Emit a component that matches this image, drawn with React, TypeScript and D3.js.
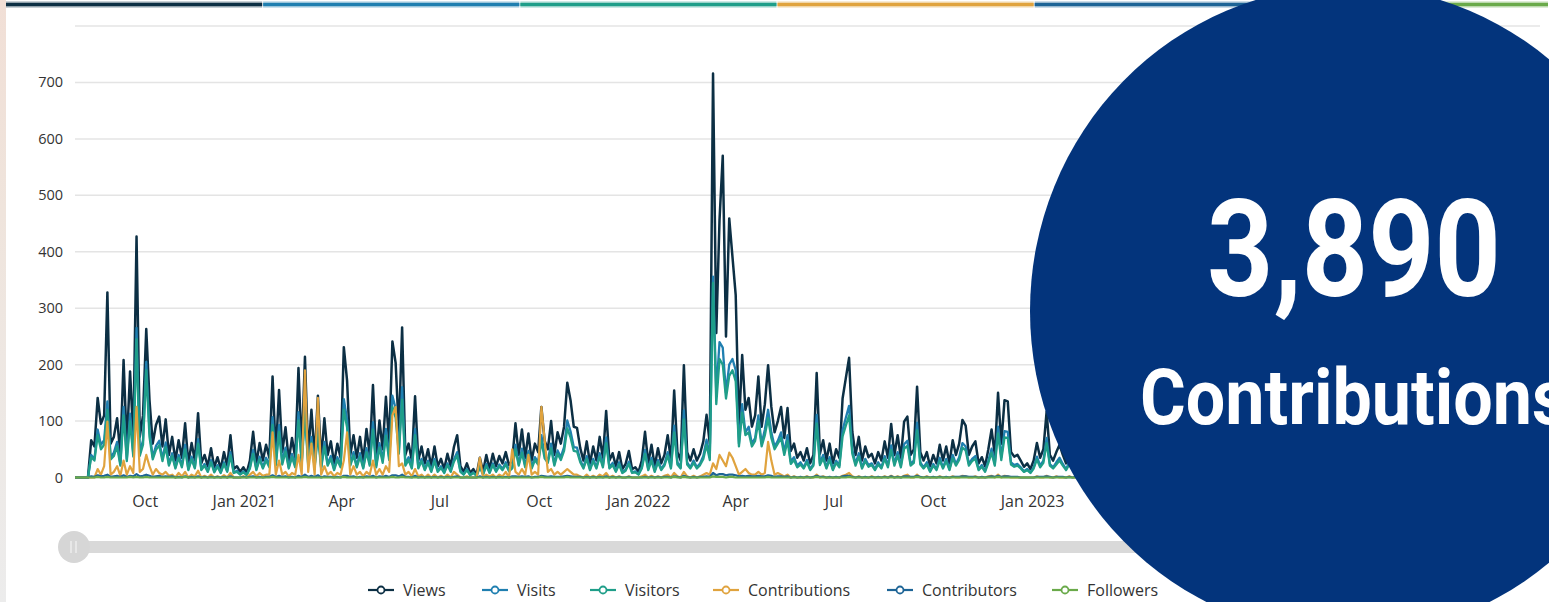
import React from 'react';
import * as d3 from 'd3';

// ---------- DATA ----------
const START_DATE = new Date(2020, 6, 28);
const END_DATE = new Date(2024, 3, 15);
const STEP_DAYS = 3;

const yTickValues = [0, 100, 200, 300, 400, 500, 600, 700];
const xTickDates = [
  new Date(2020, 9, 1), new Date(2021, 0, 1), new Date(2021, 3, 1), new Date(2021, 6, 1),
  new Date(2021, 9, 1), new Date(2022, 0, 1), new Date(2022, 3, 1), new Date(2022, 6, 1),
  new Date(2022, 9, 1), new Date(2023, 0, 1), new Date(2023, 3, 1),
];
const xTickLabels = ['Oct', 'Jan 2021', 'Apr', 'Jul', 'Oct', 'Jan 2022', 'Apr', 'Jul', 'Oct', 'Jan 2023', 'Apr'];

const seriesNames = ['Views', 'Visits', 'Visitors', 'Contributions', 'Contributors', 'Followers'];
const seriesColors = ['#0c2f44', '#1f7fb0', '#1f9e89', '#e0a33e', '#1d6496', '#6aaa4a'];

const views = [
  0, 0, 0, 0, 0, 66, 55, 141, 95, 110, 328, 60, 72, 105, 40, 208, 55, 188, 70, 427,
  72, 110, 263, 137, 60, 93, 108, 55, 103, 40, 72, 30, 66, 35, 96, 25, 61, 30, 114, 25,
  40, 20, 52, 18, 36, 15, 45, 20, 75, 15, 20, 10, 18, 8, 30, 81, 25, 61, 30, 58,
  35, 179, 40, 155, 45, 89, 30, 70, 35, 194, 45, 214, 40, 120, 35, 145, 30, 105, 40, 64,
  25, 60, 35, 231, 172, 40, 75, 35, 72, 30, 86, 40, 164, 35, 101, 50, 143, 60, 241, 203,
  80, 266, 40, 60, 30, 144, 30, 55, 25, 50, 20, 55, 20, 33, 15, 42, 20, 54, 75, 20,
  10, 25, 8, 15, 5, 35, 10, 40, 15, 42, 20, 38, 25, 45, 22, 30, 96, 40, 85, 35,
  78, 30, 60, 45, 125, 65, 50, 100, 40, 80, 60, 90, 168, 137, 90, 88, 52, 30, 64, 25,
  55, 30, 72, 35, 118, 30, 43, 20, 45, 15, 24, 47, 15, 18, 10, 30, 81, 25, 58, 20,
  52, 25, 40, 75, 30, 154, 45, 30, 199, 45, 30, 50, 30, 42, 64, 111, 60, 716, 256, 456,
  570, 250, 459, 391, 323, 90, 217, 120, 141, 90, 110, 179, 90, 130, 199, 125, 80, 100, 125, 70,
  123, 47, 60, 35, 45, 30, 52, 25, 40, 185, 42, 66, 30, 60, 25, 50, 35, 140, 176, 212,
  81, 40, 72, 30, 55, 36, 42, 25, 45, 30, 64, 35, 95, 40, 75, 35, 99, 108, 40, 50,
  161, 45, 30, 45, 20, 40, 25, 58, 30, 55, 25, 66, 40, 60, 102, 92, 40, 55, 64, 25,
  36, 20, 50, 85, 40, 150, 60, 137, 135, 45, 37, 40, 30, 19, 25, 15, 30, 61, 35, 50,
  117, 40, 30, 45, 58, 40, 25, 45, 30, 55, 35, 50, 30, 60, 40, 45, 30, 55, 35, 40,
  25,
];

const visits = [
  0, 0, 0, 0, 0, 40, 33, 85, 58, 66, 135, 36, 44, 63, 24, 125, 33, 113, 42, 265,
  44, 66, 205, 82, 36, 56, 65, 33, 62, 24, 43, 18, 40, 21, 58, 15, 37, 18, 68, 15,
  24, 12, 31, 11, 22, 9, 27, 12, 45, 9, 12, 6, 11, 5, 18, 49, 15, 37, 18, 35,
  21, 107, 24, 93, 27, 53, 18, 42, 21, 116, 27, 128, 24, 72, 21, 87, 18, 63, 24, 38,
  15, 36, 21, 139, 103, 24, 45, 21, 43, 18, 52, 24, 98, 21, 61, 30, 86, 36, 145, 122,
  48, 160, 24, 36, 18, 86, 18, 33, 15, 30, 12, 33, 12, 20, 9, 25, 12, 32, 45, 12,
  6, 15, 5, 9, 3, 21, 6, 24, 9, 25, 12, 23, 15, 27, 13, 18, 58, 24, 51, 21,
  47, 18, 36, 27, 75, 39, 30, 60, 24, 48, 36, 54, 101, 82, 54, 53, 31, 18, 38, 15,
  33, 18, 43, 21, 71, 18, 26, 12, 27, 9, 14, 28, 9, 11, 6, 18, 49, 15, 35, 12,
  31, 15, 24, 45, 18, 92, 27, 18, 119, 27, 18, 30, 18, 25, 38, 67, 36, 356, 150, 240,
  230, 150, 200, 210, 190, 60, 130, 80, 90, 60, 70, 110, 60, 85, 120, 80, 55, 65, 80, 45,
  75, 28, 36, 21, 27, 18, 31, 15, 24, 111, 25, 40, 18, 36, 15, 30, 21, 84, 106, 127,
  49, 24, 43, 18, 33, 22, 25, 15, 27, 18, 38, 21, 57, 24, 45, 21, 59, 65, 24, 30,
  97, 27, 18, 27, 12, 24, 15, 35, 18, 33, 15, 40, 24, 36, 61, 55, 24, 33, 38, 15,
  22, 12, 30, 51, 24, 90, 36, 82, 81, 27, 22, 24, 18, 11, 15, 9, 18, 37, 21, 30,
  70, 24, 18, 27, 35, 24, 15, 27, 18, 33, 21, 30, 18, 36, 24, 27, 18, 33, 21, 24,
  15,
];

const visitors = [
  0, 0, 0, 0, 0, 36, 30, 75, 50, 58, 120, 32, 38, 55, 21, 110, 29, 100, 37, 245,
  38, 58, 190, 72, 32, 49, 57, 29, 54, 21, 38, 16, 35, 18, 50, 13, 32, 16, 60, 13,
  21, 10, 27, 9, 19, 8, 24, 10, 39, 8, 10, 5, 9, 4, 16, 42, 13, 32, 16, 30,
  18, 93, 21, 81, 23, 46, 16, 36, 18, 101, 23, 111, 21, 62, 18, 75, 16, 55, 21, 33,
  13, 31, 18, 120, 89, 21, 39, 18, 37, 16, 45, 21, 85, 18, 53, 26, 74, 31, 125, 106,
  42, 138, 21, 31, 16, 75, 16, 29, 13, 26, 10, 29, 10, 17, 8, 22, 10, 28, 39, 10,
  5, 13, 4, 8, 3, 18, 5, 21, 8, 22, 10, 20, 13, 23, 11, 16, 50, 21, 44, 18,
  41, 16, 31, 23, 65, 34, 26, 52, 21, 42, 31, 47, 87, 71, 47, 46, 27, 16, 33, 13,
  29, 16, 37, 18, 61, 16, 22, 10, 23, 8, 12, 24, 8, 9, 5, 16, 42, 13, 30, 10,
  27, 13, 21, 39, 16, 80, 23, 16, 103, 23, 16, 26, 16, 22, 33, 58, 31, 345, 130, 210,
  200, 140, 180, 190, 170, 55, 115, 75, 80, 55, 65, 100, 55, 75, 105, 70, 50, 60, 70, 40,
  65, 24, 31, 18, 23, 16, 27, 13, 21, 96, 22, 34, 16, 31, 13, 26, 18, 73, 92, 110,
  42, 21, 37, 16, 29, 19, 22, 13, 23, 16, 33, 18, 49, 21, 39, 18, 51, 56, 21, 26,
  84, 23, 16, 23, 10, 21, 13, 30, 16, 29, 13, 34, 21, 31, 53, 48, 21, 29, 33, 13,
  19, 10, 26, 44, 21, 78, 31, 71, 70, 23, 19, 21, 16, 10, 13, 8, 16, 32, 18, 26,
  61, 21, 16, 23, 30, 21, 13, 23, 16, 29, 18, 26, 16, 31, 21, 23, 16, 29, 18, 21,
  13,
];

const contributions = [
  0, 0, 0, 0, 0, 0, 0, 15, 5, 20, 99, 5, 10, 20, 3, 30, 5, 20, 8, 125,
  10, 15, 40, 20, 5, 15, 8, 5, 10, 3, 5, 0, 8, 2, 10, 0, 5, 2, 12, 0,
  3, 0, 5, 0, 2, 0, 4, 0, 8, 0, 0, 0, 2, 0, 5, 10, 2, 8, 3, 5,
  5, 80, 5, 30, 5, 10, 2, 8, 5, 40, 5, 190, 10, 60, 5, 141, 5, 20, 5, 10,
  2, 8, 5, 30, 80, 5, 20, 5, 10, 2, 10, 5, 30, 5, 15, 5, 20, 10, 110, 125,
  20, 25, 5, 10, 2, 15, 2, 5, 0, 5, 0, 5, 0, 3, 0, 5, 0, 10, 5, 0,
  0, 2, 0, 0, 0, 35, 0, 5, 2, 5, 0, 5, 2, 10, 0, 50, 10, 5, 15, 5,
  40, 5, 10, 5, 125, 67, 10, 15, 5, 10, 5, 10, 15, 10, 5, 5, 2, 0, 5, 0,
  3, 0, 5, 2, 8, 0, 3, 0, 2, 0, 0, 2, 0, 0, 0, 2, 5, 0, 3, 0,
  2, 0, 3, 5, 0, 8, 2, 0, 10, 2, 0, 3, 0, 2, 5, 8, 5, 25, 15, 40,
  30, 20, 44, 35, 20, 5, 10, 15, 8, 5, 5, 10, 5, 8, 63, 30, 5, 8, 5, 2,
  5, 0, 2, 0, 0, 0, 2, 0, 0, 5, 0, 2, 0, 0, 0, 0, 0, 3, 5, 8,
  2, 0, 2, 0, 0, 0, 2, 0, 0, 0, 2, 0, 3, 0, 2, 0, 3, 5, 0, 0,
  5, 0, 0, 2, 0, 0, 0, 2, 0, 0, 0, 2, 0, 0, 3, 2, 0, 0, 2, 0,
  0, 0, 2, 3, 0, 5, 0, 3, 2, 0, 0, 0, 0, 0, 0, 0, 0, 2, 0, 0,
  3, 0, 0, 2, 0, 0, 0, 2, 0, 0, 0, 0, 2, 0, 0, 0, 2, 0, 0, 0,
  0,
];

const contributors = [
  0, 0, 0, 0, 0, 2, 1, 4, 2, 3, 5, 1, 2, 3, 1, 4, 1, 3, 2, 6,
  2, 3, 5, 3, 1, 2, 3, 1, 2, 1, 2, 0, 1, 0, 2, 0, 1, 0, 2, 0,
  1, 0, 1, 0, 1, 0, 1, 0, 2, 0, 0, 0, 1, 0, 1, 2, 0, 1, 0, 1,
  1, 4, 1, 3, 1, 2, 0, 1, 0, 3, 1, 5, 1, 3, 1, 4, 0, 2, 1, 1,
  0, 1, 0, 3, 3, 1, 2, 0, 1, 0, 2, 1, 3, 0, 2, 1, 3, 1, 4, 4,
  2, 5, 1, 1, 0, 3, 0, 1, 0, 1, 0, 1, 0, 1, 0, 1, 0, 1, 2, 0,
  0, 0, 0, 0, 0, 2, 0, 1, 0, 1, 0, 1, 0, 1, 0, 2, 2, 1, 2, 1,
  2, 0, 1, 1, 3, 2, 1, 2, 1, 1, 1, 2, 3, 2, 1, 1, 1, 0, 1, 0,
  1, 0, 1, 0, 2, 0, 1, 0, 1, 0, 0, 1, 0, 0, 0, 0, 1, 0, 1, 0,
  1, 0, 1, 1, 0, 2, 1, 0, 3, 1, 0, 1, 0, 1, 1, 2, 1, 8, 4, 6,
  6, 4, 5, 5, 4, 2, 3, 2, 3, 2, 2, 3, 2, 2, 4, 3, 1, 2, 2, 1,
  2, 0, 1, 0, 1, 0, 1, 0, 1, 3, 1, 1, 0, 1, 0, 1, 0, 2, 3, 3,
  1, 0, 1, 0, 1, 0, 1, 0, 1, 0, 1, 0, 2, 0, 1, 0, 2, 2, 1, 1,
  3, 1, 0, 1, 0, 1, 0, 1, 0, 1, 0, 1, 1, 1, 2, 2, 1, 1, 1, 0,
  1, 0, 1, 2, 1, 3, 1, 2, 2, 1, 1, 1, 0, 0, 0, 0, 0, 1, 1, 1,
  2, 1, 0, 1, 1, 1, 0, 1, 0, 1, 1, 1, 0, 1, 1, 1, 0, 1, 0, 1,
  0,
];

const followers = [
  0, 0, 0, 0, 0, 0, 0, 1, 0, 0, 1, 0, 0, 0, 0, 0, 0, 1, 0, 1,
  0, 0, 1, 0, 0, 0, 0, 0, 0, 0, 0, 0, 0, 0, 1, 0, 0, 0, 0, 0,
  0, 0, 0, 0, 0, 0, 0, 0, 0, 0, 0, 0, 0, 0, 0, 0, 0, 0, 0, 0,
  0, 1, 0, 0, 0, 0, 0, 0, 0, 0, 0, 1, 0, 0, 0, 0, 0, 0, 0, 0,
  0, 0, 0, 1, 0, 0, 0, 0, 0, 0, 0, 0, 0, 0, 0, 0, 0, 0, 1, 0,
  0, 1, 0, 0, 0, 0, 0, 0, 0, 0, 0, 0, 0, 0, 0, 0, 0, 0, 0, 0,
  0, 0, 0, 0, 0, 0, 0, 0, 0, 0, 0, 0, 0, 0, 0, 0, 0, 0, 0, 0,
  0, 0, 0, 0, 1, 0, 0, 0, 0, 0, 0, 0, 1, 0, 0, 0, 0, 0, 0, 0,
  0, 0, 0, 0, 0, 0, 0, 0, 0, 0, 0, 0, 0, 0, 0, 0, 0, 0, 0, 0,
  0, 0, 0, 0, 0, 1, 0, 0, 1, 0, 0, 0, 0, 0, 0, 0, 0, 2, 1, 1,
  1, 0, 1, 1, 0, 0, 0, 0, 0, 0, 0, 0, 0, 0, 1, 0, 0, 0, 0, 0,
  0, 0, 0, 0, 0, 0, 0, 0, 0, 1, 0, 0, 0, 0, 0, 0, 0, 0, 0, 1,
  0, 0, 0, 0, 0, 0, 0, 0, 0, 0, 0, 0, 0, 0, 0, 0, 0, 0, 0, 0,
  1, 0, 0, 0, 0, 0, 0, 0, 0, 0, 0, 0, 0, 0, 0, 0, 0, 0, 0, 0,
  0, 0, 0, 0, 0, 1, 0, 0, 0, 0, 0, 0, 0, 0, 0, 0, 0, 0, 0, 0,
  0, 0, 0, 0, 0, 0, 0, 0, 0, 0, 0, 0, 0, 0, 0, 0, 0, 0, 0, 0,
  0,
];

const seriesData = [views, visits, visitors, contributions, contributors, followers];

const bigNumber = '3,890';
const bigLabel = 'Contributions';

// ---------- COMPONENT ----------
export default function App() {
  const W = 1549;
  const H = 602;
  const left = 75;
  const right = 1540;
  const top = 26;
  const bottom = 477.5;

  const x = d3.scaleTime().domain([START_DATE, END_DATE]).range([left, right]);
  const y = d3.scaleLinear().domain([0, 800]).range([bottom, top]);
  const dates = views.map((_, i) => d3.timeDay.offset(START_DATE, i * STEP_DAYS));

  const line = d3
    .line<number>()
    .x((_, i) => x(dates[i]))
    .y((d) => y(d));

  const font = "'Segoe UI', 'Open Sans', sans-serif";
  const legendX = [368, 482, 590, 713, 887, 1052];
  const barW = (W - 6) / 6;
  const strokeW = [2.5, 2.3, 2.3, 2.2, 2.2, 2.2];

  return (
    <svg
      width={W}
      height={H}
      style={{ position: 'absolute', left: 0, top: 0, background: '#ffffff' }}
    >
      <defs>
        <linearGradient id="strip" x1="0" y1="0" x2="0" y2="1">
          <stop offset="0" stopColor="#f1dfd6" />
          <stop offset="0.35" stopColor="#efe4dc" />
          <stop offset="1" stopColor="#ececec" />
        </linearGradient>
        <clipPath id="plotClip">
          <rect x={left} y={0} width={right - left} height={bottom + 2} />
        </clipPath>
      </defs>
      <rect x={0} y={0} width={W} height={H} fill="#ffffff" />
      <rect x={0} y={0} width={6} height={H} fill="url(#strip)" />

      {/* top colour bars */}
      {seriesColors.map((c, k) => (
        <g key={'bar' + k}>
          <rect x={6 + k * barW} y={1.5} width={barW - 1} height={6} fill={c} opacity={0.45} />
          <rect x={6 + k * barW} y={3} width={barW - 1} height={3} fill={c} />
        </g>
      ))}

      {/* gridlines */}
      <line x1={left} x2={right} y1={y(800)} y2={y(800)} stroke="#e4e4e4" strokeWidth={1.5} />
      {yTickValues.map((v) => (
        <g key={'yt' + v}>
          <line x1={left} x2={right} y1={y(v)} y2={y(v)} stroke="#e4e4e4" strokeWidth={1.5} />
          <text
            x={63}
            y={y(v) + 5}
            textAnchor="end"
            fontFamily={font}
            fontSize={14.5}
            fill="#333333"
          >
            {v}
          </text>
        </g>
      ))}

      {/* x tick labels */}
      {xTickDates.map((d, k) => (
        <text
          key={'xt' + k}
          x={x(d)}
          y={507}
          textAnchor="middle"
          fontFamily={font}
          fontSize={16}
          fill="#333333"
        >
          {xTickLabels[k]}
        </text>
      ))}

      {/* lines */}
      <g clipPath="url(#plotClip)">
        {seriesData.map((s, k) => (
          <path
            key={'ln' + k}
            d={line(s) || ''}
            fill="none"
            stroke={seriesColors[k]}
            strokeWidth={strokeW[k]}
            strokeLinejoin="round"
          />
        ))}
      </g>

      {/* slider */}
      <rect x={left} y={541} width={1100} height={12} fill="#d9d9d9" />
      <circle cx={74} cy={547} r={16} fill="#d6d6d6" />
      <line x1={71} x2={71} y1={541} y2={553} stroke="#ececec" strokeWidth={1.5} />
      <line x1={76} x2={76} y1={541} y2={553} stroke="#ececec" strokeWidth={1.5} />

      {/* legend */}
      {seriesNames.map((n, k) => (
        <g key={'lg' + k}>
          <line
            x1={legendX[k]}
            x2={legendX[k] + 26}
            y1={590}
            y2={590}
            stroke={seriesColors[k]}
            strokeWidth={2.2}
          />
          <circle
            cx={legendX[k] + 13}
            cy={590}
            r={3.5}
            fill="#ffffff"
            stroke={seriesColors[k]}
            strokeWidth={1.8}
          />
          <text
            x={legendX[k] + 35}
            y={596}
            fontFamily={font}
            fontSize={16}
            fill="#333333"
          >
            {n}
          </text>
        </g>
      ))}

      {/* overlay circle */}
      <ellipse cx={1348} cy={311} rx={318} ry={325} fill="#03347c" />
      <text
        x={1207}
        y={296}
        fontFamily="Roboto, sans-serif"
        fontWeight={700}
        fontSize={136}
        fill="#ffffff"
        textLength={294}
        lengthAdjust="spacingAndGlyphs"
      >
        {bigNumber}
      </text>
      <text
        x={1140}
        y={424}
        fontFamily="Roboto, sans-serif"
        fontWeight={700}
        fontSize={78}
        fill="#ffffff"
        textLength={428}
        lengthAdjust="spacingAndGlyphs"
      >
        {bigLabel}
      </text>
    </svg>
  );
}
